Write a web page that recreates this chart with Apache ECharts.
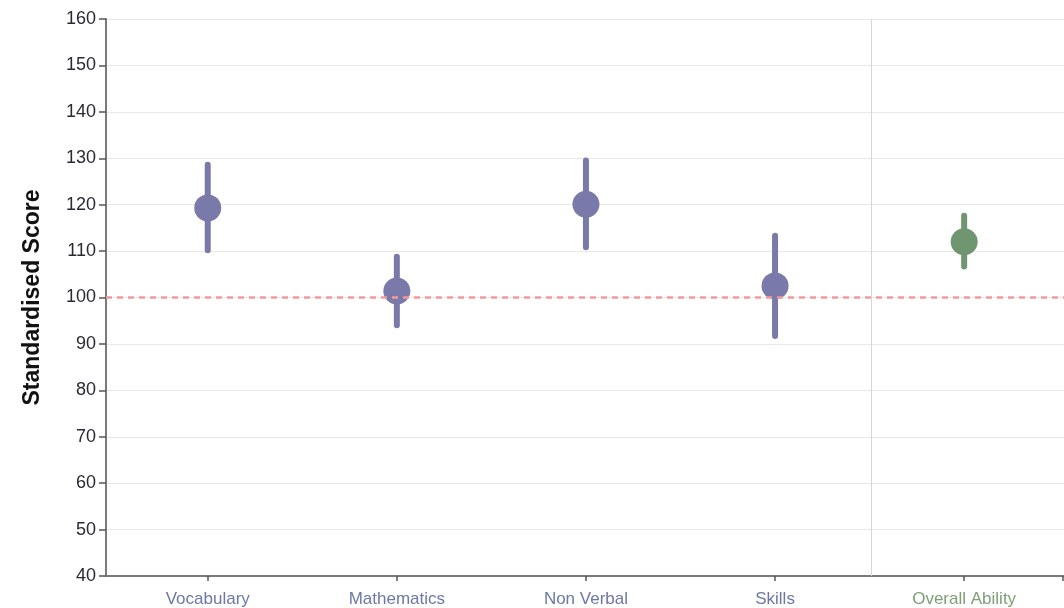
<!DOCTYPE html>
<html>
<head>
<meta charset="utf-8">
<style>
  html, body { margin: 0; padding: 0; background: #fff; }
  #chart { width: 1064px; height: 608px; }
</style>
<script src="https://cdn.jsdelivr.net/npm/echarts@6/dist/echarts.min.js"></script>
</head>
<body>
<div id="chart"></div>
<script>
// subjects along the bottom
var categories = ['Vocabulary', 'Mathematics', 'Non Verbal', 'Skills', 'Overall Ability']
// standardised score (dot) and confidence band (bar ends)
var scores = [119.3, 101.4, 120.1, 102.5, 112.0]
var lowValues = [110.2, 94.0, 110.8, 91.7, 106.7]
var highValues = [128.6, 108.8, 129.5, 113.3, 117.6]
var yTicks = [40, 50, 60, 70, 80, 90, 100, 110, 120, 130, 140, 150, 160]
var nationalAverage = 100
var overallSplit = 3.51

var PURPLE = '#7a7aaa'
var GREEN = '#6f9670'
var FONT = 'Liberation Sans, Arial, sans-serif'
function colorFor (i) {
  return categories[i] === 'Overall Ability' ? GREEN : PURPLE
}

var chartCanvas = echarts.init(document.getElementById('chart'))

var barData = []
var dotData = []
for (let i = 0; i < categories.length; i++) {
  barData.push([i, lowValues[i], highValues[i]])
  dotData.push({ value: [i, scores[i]], itemStyle: { color: colorFor(i), opacity: 1 } })
}

var chartOption = {
  animation: false,
  grid: { left: 106, top: 19, bottom: 32, right: 0 },
  xAxis: {
    type: 'value',
    min: -0.538,
    max: 4.528,
    splitLine: { show: false },
    axisLine: { show: true, onZero: false, lineStyle: { color: '#7a7a7a', width: 2 } },
    axisTick: {
      show: true,
      length: 5,
      customValues: [0, 1, 2, 3, 4, 4.52],
      lineStyle: { color: '#555', width: 1.5 }
    },
    axisLabel: {
      customValues: [0, 1, 2, 3, 4],
      margin: 15,
      formatter: function (v) {
        var i = Math.round(v)
        return categories[i] === 'Overall Ability' ? '{g|' + categories[i] + '}' : '{p|' + categories[i] + '}'
      },
      rich: {
        p: { color: '#6c78a6', fontSize: 17, fontFamily: FONT },
        g: { color: '#7e9f76', fontSize: 17, fontFamily: FONT }
      }
    }
  },
  yAxis: {
    type: 'value',
    min: yTicks[0],
    max: yTicks[yTicks.length - 1],
    interval: 10,
    name: 'Standardised Score',
    nameLocation: 'middle',
    nameGap: 62,
    nameTextStyle: {
      fontFamily: FONT,
      fontSize: 23,
      fontWeight: 'bold',
      color: '#111'
    },
    axisLine: { show: true, onZero: false, lineStyle: { color: '#7a7a7a', width: 2 } },
    axisTick: { show: true, length: 7, lineStyle: { color: '#555', width: 1.5 } },
    axisLabel: {
      margin: 10,
      fontFamily: FONT,
      fontSize: 18,
      color: '#2a2a36'
    },
    splitLine: { show: true, lineStyle: { color: '#e8e8e8', width: 1 } }
  },
  series: [
    {
      type: 'custom',
      name: 'range',
      data: barData,
      encode: { x: 0, y: [1, 2] },
      renderItem: function (params, api) {
        var i = api.value(0)
        var lo = api.coord([i, api.value(1)])
        var hi = api.coord([i, api.value(2)])
        return {
          type: 'line',
          shape: { x1: lo[0], y1: lo[1], x2: hi[0], y2: hi[1] },
          style: { stroke: colorFor(i), lineWidth: 6, lineCap: 'round' }
        }
      },
      z: 3,
      markLine: {
        silent: true,
        symbol: 'none',
        label: { show: false },
        data: [
          { yAxis: nationalAverage, lineStyle: { color: '#f29a9a', type: [6, 5], width: 2.5 } },
          { xAxis: overallSplit, lineStyle: { color: '#d6d6d6', type: 'solid', width: 1 } }
        ]
      }
    },
    {
      type: 'scatter',
      name: 'score',
      data: dotData,
      symbolSize: 27,
      z: 4
    }
  ]
}
chartCanvas.setOption(chartOption)
</script>
</body>
</html>
